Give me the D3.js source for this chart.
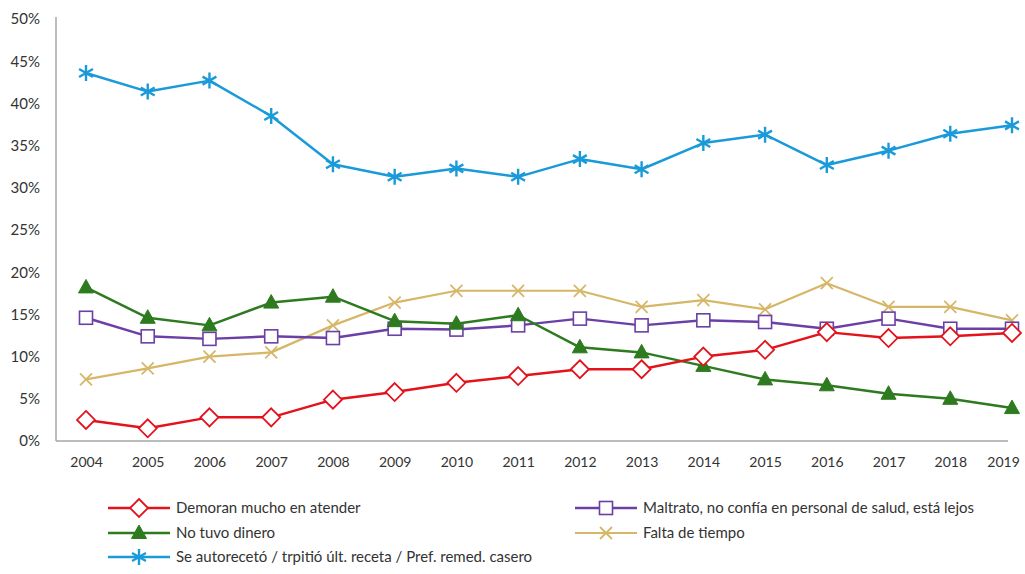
<!DOCTYPE html>
<html><head><meta charset="utf-8">
<script src="https://cdn.jsdelivr.net/npm/d3@7"></script>
<style>body{margin:0;background:#fff}svg{display:block;font-family:Lato,"Open Sans",sans-serif}</style>
</head><body><svg id="c" width="1025" height="574"></svg>
<script>
const years = [2004,2005,2006,2007,2008,2009,2010,2011,2012,2013,2014,2015,2016,2017,2018,2019];
const yTicks = [0,5,10,15,20,25,30,35,40,45,50];
const demoran = [2.5,1.5,2.8,2.8,4.9,5.8,6.9,7.7,8.5,8.5,10.0,10.8,12.9,12.2,12.4,12.8];
const maltrato = [14.6,12.4,12.1,12.4,12.2,13.3,13.2,13.7,14.5,13.7,14.3,14.1,13.3,14.5,13.3,13.3];
const noDinero = [18.2,14.6,13.7,16.4,17.1,14.2,13.9,14.9,11.1,10.5,8.9,7.3,6.6,5.6,5.0,3.9];
const faltaTiempo = [7.3,8.6,10.0,10.5,13.7,16.4,17.8,17.8,17.8,15.9,16.7,15.6,18.7,15.9,15.9,14.3];
const autoreceto = [43.6,41.4,42.7,38.5,32.8,31.3,32.3,31.3,33.4,32.2,35.3,36.3,32.7,34.4,36.4,37.4];
const seriesNames = ["Demoran mucho en atender","Maltrato, no confía en personal de salud, está lejos","No tuvo dinero","Falta de tiempo","Se autorecetó / trpitió últ. receta / Pref. remed. casero"];

const series = [
  {name:seriesNames[0], values:demoran, color:"#e3121b", marker:"diamond", w:2.5},
  {name:seriesNames[1], values:maltrato, color:"#6b3fa6", marker:"square", w:2.5},
  {name:seriesNames[2], values:noDinero, color:"#2e7a1f", marker:"triangle", w:2.5},
  {name:seriesNames[3], values:faltaTiempo, color:"#d6b767", marker:"x", w:2.2},
  {name:seriesNames[4], values:autoreceto, color:"#1a9ad9", marker:"star", w:2.5}
];

const svg = d3.select("#c");
const x = d3.scalePoint().domain(years).range([86,1012]);
const y = d3.scaleLinear().domain([0,50]).range([441,19]);

// axes
const yAxis = svg.append("g").attr("transform","translate(56,0)")
  .call(d3.axisLeft(y).tickValues(yTicks).tickSize(0).tickPadding(16).tickFormat(d=>d+"%"));
yAxis.select(".domain").attr("stroke","#a6a6a6").attr("stroke-width",1.5).attr("d","M0,17V441");
yAxis.selectAll("text").attr("font-size",15).attr("fill","#333").attr("font-family","Lato,sans-serif");

const xAxis = svg.append("g").attr("transform","translate(0,441)")
  .call(d3.axisBottom(x).tickSize(0).tickPadding(16).tickFormat(d3.format("d")));
xAxis.select(".domain").attr("stroke","#a6a6a6").attr("stroke-width",1.5).attr("d","M56,0H1008");
xAxis.selectAll("text").attr("font-size",14).attr("fill","#333").attr("font-family","Lato,sans-serif");
xAxis.selectAll(".tick").filter(d=>d===years[years.length-1]).select("text").attr("dx",-9);

function drawMarker(g, type, color, cx, cy){
  if(type==="diamond"){
    g.append("path").attr("d",`M${cx},${cy-9}L${cx+9},${cy}L${cx},${cy+9}L${cx-9},${cy}Z`)
      .attr("fill","#fff").attr("stroke",color).attr("stroke-width",1.8);
  } else if(type==="square"){
    g.append("rect").attr("x",cx-6.5).attr("y",cy-6.5).attr("width",13).attr("height",13)
      .attr("fill","#fff").attr("stroke",color).attr("stroke-width",1.6);
  } else if(type==="triangle"){
    g.append("path").attr("d",`M${cx},${cy-8}L${cx+7.5},${cy+5.5}L${cx-7.5},${cy+5.5}Z`)
      .attr("fill",color).attr("stroke",color).attr("stroke-width",1);
  } else if(type==="x"){
    g.append("path").attr("d",`M${cx-6},${cy-6}L${cx+6},${cy+6}M${cx-6},${cy+6}L${cx+6},${cy-6}`)
      .attr("stroke",color).attr("stroke-width",1.8).attr("fill","none");
  } else if(type==="star"){
    const r=8; let d="";
    for(let i=0;i<3;i++){const a=Math.PI/2+i*Math.PI/3; d+=`M${cx+r*Math.cos(a)},${cy-r*Math.sin(a)}L${cx-r*Math.cos(a)},${cy+r*Math.sin(a)}`;}
    g.append("path").attr("d",d).attr("stroke",color).attr("stroke-width",2.4).attr("fill","none");
  }
}

const line = d3.line().x((d,i)=>x(years[i])).y(d=>y(d));
const order = [3,1,2,0,4];
order.forEach(k=>{
  const s = series[k];
  const g = svg.append("g");
  g.append("path").attr("d",line(s.values)).attr("fill","none").attr("stroke",s.color).attr("stroke-width",s.w).attr("stroke-linejoin","round");
  s.values.forEach((v,i)=>drawMarker(g,s.marker,s.color,x(years[i]),y(v)));
});

// legend
const legendPos = [[108,508],[575,508],[108,533],[575,533],[108,557]];
series.forEach((s,i)=>{
  const [lx,ly] = legendPos[i];
  const g = svg.append("g");
  g.append("line").attr("x1",lx).attr("x2",lx+62).attr("y1",ly).attr("y2",ly).attr("stroke",s.color).attr("stroke-width",s.w);
  drawMarker(g,s.marker,s.color,lx+31,ly);
  g.append("text").attr("x",lx+68).attr("y",ly+5).attr("font-size",15).attr("fill","#333").text(s.name);
});
</script></body></html>
